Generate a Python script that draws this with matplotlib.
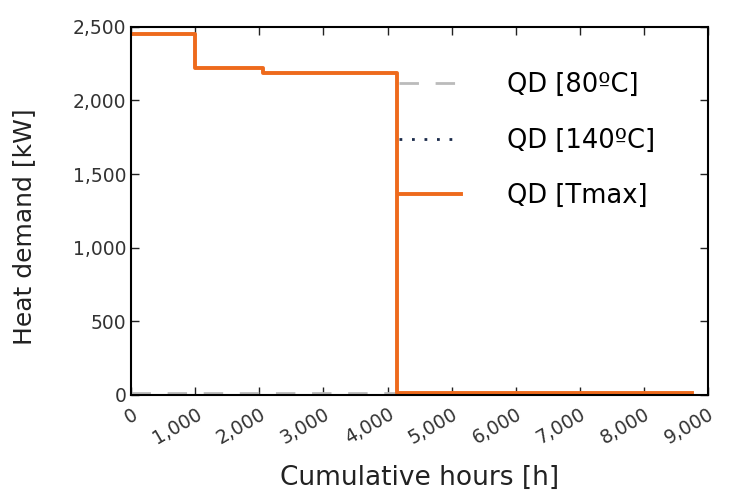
import matplotlib
matplotlib.use("Agg")
import matplotlib.pyplot as plt
from matplotlib.ticker import FuncFormatter

# Step-wise duration curve data (cumulative hours at step edges, demand levels)
hours_edges = [0, 1000, 2050, 4150, 8760]
qd_tmax = [2455, 2220, 2190, 15]
qd_80 = [12, 12, 12, 12]
qd_140 = [0, 0, 0, 0]

def step_xy(edges, levels):
    xs, ys = [], []
    for i, v in enumerate(levels):
        xs += [edges[i], edges[i + 1]]
        ys += [v, v]
    return xs, ys

fig = plt.figure(figsize=(7.38, 4.98), dpi=100)
ax = fig.add_axes([0.178, 0.207, 0.781, 0.739])

x80, y80 = step_xy(hours_edges, qd_80)
x140, y140 = step_xy(hours_edges, qd_140)
xt, yt = step_xy(hours_edges, qd_tmax)

ax.plot(x80, y80, color="#bbbbbb", ls=(0, (7, 6)), lw=2, label="QD [80ºC]")
ax.plot(x140, y140, color="#1a2a4a", ls=(0, (1, 3.5)), lw=2, label="QD [140ºC]")
ax.plot(xt, yt, color="#ee6a1c", lw=2.8, label="QD [Tmax]")

ax.set_xlim(0, 9000)
ax.set_ylim(0, 2500)
ax.set_xticks(range(0, 9001, 1000))
ax.set_yticks(range(0, 2501, 500))
fmt = FuncFormatter(lambda v, p: f"{int(v):,}")
ax.xaxis.set_major_formatter(fmt)
ax.yaxis.set_major_formatter(fmt)
ax.tick_params(direction="in", top=True, right=True, length=6, width=1,
               labelsize=13.5, colors="#222222", labelcolor="#333333")
ax.tick_params(axis="x", pad=7)
for lab in ax.get_xticklabels():
    lab.set_rotation(30)
    lab.set_ha("right")
    lab.set_rotation_mode("anchor")
for s in ax.spines.values():
    s.set_linewidth(1.5)
    s.set_color("black")

ax.set_xlabel("Cumulative hours [h]", fontsize=19, color="#222222")
ax.set_ylabel("Heat demand [kW]", fontsize=18, color="#222222")
ax.xaxis.set_label_coords(0.5, -0.19)
ax.yaxis.set_label_coords(-0.165, 0.457)

ax.legend(loc="upper left", bbox_to_anchor=(0.424, 0.94), frameon=False,
          fontsize=18.5, handlelength=2.4, handletextpad=1.8, labelspacing=1.15)

fig.savefig("out.png", dpi=100)
